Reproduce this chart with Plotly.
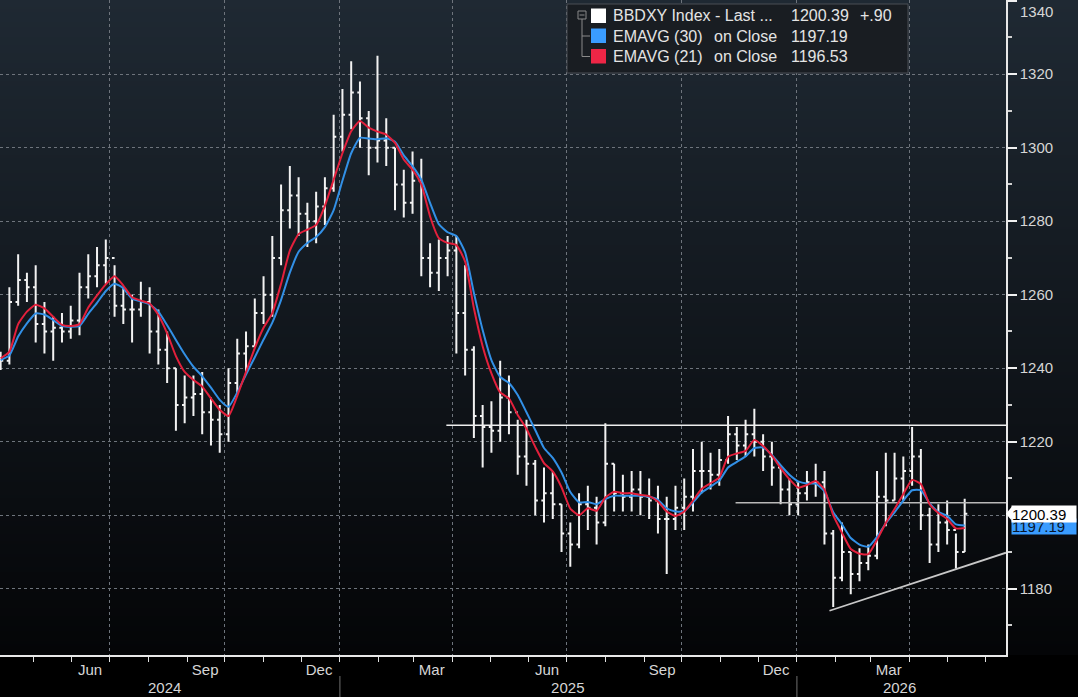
import base64, zlib, struct
import pandas as pd
import plotly.graph_objects as go

# ---------------- data (weekly) ----------------
start_date = "2024-04-05"
n_weeks = 111
opens = [1241,1242,1258,1264,1262,1252,1250,1251,1250,1253,1262,1265,1268,1270,1257,1256,1256,1258,1250,1245,
         1240,1230,1232,1233,1228,1226,1222,1236,1244,1246,1255,1260,1270,1283,1287,1282,1280,1284,1289,1303,
         1309,1315,1308,1300,1302,1300,1290,1285,1291,1270,1266,1270,1272,1255,1245,1227,1224,1223,1232,1228,
         1216,1214,1204,1206,1203,1195,1192,1203,1202,1198,1214,1206,1205,1207,1205,1204,1199,1199,1202,1205,
         1212,1212,1211,1215,1222,1219,1222,1220,1216,1213,1207,1203,1206,1209,1209,1195,1183,1190,1184,1187,
         1189,1205,1204,1210,1212,1216,1200,1192,1198,1196,1190]
highs = [1244.5,1262,1271,1266,1268,1258,1254,1255,1257,1266,1271,1273,1275,1268,1262,1260,1263.5,1262,1256,1250,
         1240,1238,1238,1239,1232,1230,1240,1248,1250,1259,1265,1276,1290,1295,1292,1285,1288,1292,1309,1316,
         1323.5,1318,1310,1325,1308,1300,1294,1299,1297,1274,1275,1276,1276,1268,1246,1230,1231,1242,1238,1226,
         1226,1215,1213,1212,1203,1198,1206,1208,1205,1225,1214,1211,1212,1212,1210,1208,1205,1208,1210,1218,
         1220,1217,1218,1227,1224,1226,1229,1222,1220,1213,1210,1209,1212,1214,1212,1196,1198,1190,1191,1192,
         1212,1217,1217,1216,1224,1218,1202,1203,1204,1195,1204.5]
lows = [1239.5,1241,1257,1258,1247,1244,1242,1247,1248,1249,1259,1262,1263,1254,1252,1247,1254,1244,1241,1236,
        1223,1225,1227,1222,1219,1217,1220,1233,1239,1246,1252,1254,1268,1278,1276,1273,1274,1279,1288,1299,
        1305,1300,1292.5,1296,1295,1283,1281,1282,1265,1262,1261,1265,1244,1238,1221,1213,1217,1220,1222,1211,
        1208,1200,1198,1199,1190,1186,1191,1196,1192,1197,1201,1201,1201,1200,1199,1195,1184,1196,1196,1201,
        1206,1207,1208,1214,1215,1216,1216,1212,1208,1203,1200,1200,1204,1205,1192,1175,1182,1178.5,1182,1185,
        1188,1197,1204,1204,1208,1196,1187,1190,1192,1185.5,1190]
closes = [1242,1258,1264,1262,1252,1250,1251,1250,1253,1262,1265,1268,1270,1257,1256,1256,1258,1250,1245,1240,
          1230,1232,1233,1228,1226,1222,1236,1244,1246,1255,1260,1270,1283,1287,1282,1280,1284,1289,1303,1309,
          1315,1308,1300,1302,1300,1290,1285,1291,1270,1266,1270,1272,1255,1245,1227,1224,1223,1232,1228,1216,
          1214,1204,1206,1203,1195,1192,1203,1202,1198,1214,1206,1205,1207,1205,1204,1199,1199,1202,1205,1212,
          1212,1211,1215,1222,1219,1222,1220,1216,1213,1207,1203,1206,1209,1209,1195,1183,1190,1184,1187,1189,
          1205,1204,1210,1212,1216,1200,1192,1198,1196,1190,1200.39]
ema30 = [1242.2,1243.5,1248.6,1252.2,1254.9,1254.6,1253.1,1251.5,1251.3,1251.5,
         1254.8,1257.8,1261,1263,1261.8,1258.9,1258.2,1257.4,1255.4,1251.7,
         1247.7,1243.8,1240.4,1237.8,1234.7,1231.4,1229.5,1233.4,1238.3,1243,
         1247.8,1252.4,1258.6,1266,1271.7,1274.1,1275.7,1278.4,1283,1291,
         1298.5,1302.7,1302.5,1302.3,1302.6,1301.6,1297.9,1295,1291.3,1285,
         1279.2,1277,1276,1271.5,1260.5,1250.4,1242.2,1237.6,1236,1232.7,
         1228,1223.2,1218.3,1215.6,1211.6,1206.3,1203.5,1203.6,1203,1204.4,
         1205.3,1205.3,1205.3,1205.3,1205,1204.2,1201.9,1201,1201.1,1203.5,
         1206.2,1207.8,1209.4,1213,1214.5,1216,1218.3,1218.4,1216.4,1213.6,
         1211,1209.2,1208.6,1208.6,1206.5,1200.8,1197.5,1193.8,1192,1191.4,
         1194.1,1197.8,1200.8,1204,1206.8,1206.8,1203.2,1200.9,1199.8,1197.5,
         1197.19]
ema21 = [1242.7,1244.5,1252,1255.4,1257.3,1256.3,1254,1251.8,1251.5,1252,
         1256.5,1259.8,1262.8,1265,1262.5,1259.3,1258.4,1257.6,1254.5,1249.5,
         1243.3,1239,1236.8,1235,1231.8,1228.7,1227,1232.5,1239,1245.5,
         1251,1255,1263,1272,1276.5,1277.7,1279,1284.2,1291.3,1298.5,
         1304.5,1307.3,1305.5,1304.4,1303.6,1301.3,1296.8,1294,1290,1281.3,
         1275.4,1274.1,1273.5,1269,1256.3,1246,1238.6,1233.4,1231.8,1227.3,
         1223.5,1218.6,1214.2,1211.9,1207.6,1201.8,1200,1201.9,1201.2,1204.8,
         1206.4,1206,1206,1205.5,1205.2,1203.7,1201,1199.8,1201,1204,
         1207.2,1208.7,1210.3,1215.9,1216.8,1217.5,1220.5,1218.8,1216.2,1212.8,
         1209.8,1207.5,1208.2,1209.3,1207,1200,1195.2,1190.8,1189.5,1189.4,
         1193.3,1197.9,1201.7,1205.8,1209.6,1208.5,1203,1200.6,1199,1196.4,
         1196.53]

# user-drawn levels
level_high_dates = ["2025-03-27", "2026-06-17"]
level_high_vals = [1224.5, 1224.5]
level_mid_dates = ["2025-11-13", "2026-06-17"]
level_mid_vals = [1203.4, 1203.4]
trend_dates = ["2026-01-27", "2026-06-17"]
trend_vals = [1174.0, 1189.8]

# axis ticks / labels
x_range = ["2024-04-04 12:00", "2026-06-17"]
y_range = [1161.96, 1340.2]
y_ticks = [1180, 1200, 1220, 1240, 1260, 1280, 1300, 1320, 1340]
y_tick_text = ["1180", "1200", "1220", "1240", "1260", "1280", "1300", "1320", ""]
y_top_tick = [1340]
y_top_text = ["1340"]
month_ticks = ["2024-05-01","2024-06-01","2024-07-01","2024-08-01","2024-09-01","2024-10-01","2024-11-01",
               "2024-12-01","2025-01-01","2025-02-01","2025-03-01","2025-04-01","2025-05-01","2025-06-01",
               "2025-07-01","2025-08-01","2025-09-01","2025-10-01","2025-11-01","2025-12-01","2026-01-01",
               "2026-02-01","2026-03-01","2026-04-01","2026-05-01","2026-06-01"]
month_labels = ["","Jun","","","Sep","","","Dec","","","Mar","","","Jun",
                "","","Sep","","","Dec","","","Mar","","",""]
quarter_starts = ["2024-07-01","2024-10-01","2025-01-01","2025-04-01","2025-07-01","2025-10-01",
                  "2026-01-01","2026-04-01"]
year_label_pos = ["2024-08-14", "2025-07-02", "2026-03-24"]
year_labels = ["2024", "2025", "2026"]
year_breaks = ["2025-01-01", "2026-01-01"]

legend_names = ["BBDXY Index - Last ...", "EMAVG (30)", "EMAVG (21)"]
legend_mid = ["", "on Close", "on Close"]
legend_vals = ["1200.39", "1197.19", "1196.53"]
legend_change = "+.90"

dates = pd.date_range(start_date, periods=n_weeks, freq="7D")

# ---------------- styling ----------------
W, H = 1078, 697
PW, PH = 1006, 655
FONT = "Liberation Sans, Arial, sans-serif"
GRID = "#6e747c"
WHITE = "#f2f2f2"
BLUE = "#3290e6"
RED = "#e3203c"

def xp(px):
    return px / PW

def yp(py):
    return 1 - py / PH

def png_gradient(top, bottom, h=256):
    raw = b"".join(b"\x00" + bytes([int(round(top[k] + (bottom[k] - top[k]) * i / (h - 1))) for k in range(3)])
                   for i in range(h))
    def chunk(t, d):
        return struct.pack(">I", len(d)) + t + d + struct.pack(">I", zlib.crc32(t + d) & 0xffffffff)
    ihdr = struct.pack(">IIBBBBB", 1, h, 8, 2, 0, 0, 0)
    png = b"\x89PNG\r\n\x1a\n" + chunk(b"IHDR", ihdr) + chunk(b"IDAT", zlib.compress(raw)) + chunk(b"IEND", b"")
    return "data:image/png;base64," + base64.b64encode(png).decode()

fig = go.Figure()

fig.add_trace(go.Ohlc(x=dates, open=opens, high=highs, low=lows, close=closes,
                      increasing=dict(line=dict(color=WHITE, width=2)),
                      decreasing=dict(line=dict(color=WHITE, width=2)),
                      tickwidth=0.3, showlegend=False, hoverinfo="skip"))

for dts, vals, col, w in [(level_high_dates, level_high_vals, "#eeeeee", 1.6),
                          (level_mid_dates, level_mid_vals, "#b9b9b9", 1.6),
                          (trend_dates, trend_vals, "#c8c8c8", 1.8)]:
    fig.add_trace(go.Scatter(x=dts, y=vals, mode="lines", line=dict(color=col, width=w),
                             showlegend=False, hoverinfo="skip", cliponaxis=True))

fig.add_trace(go.Scatter(x=dates, y=ema30, mode="lines", line=dict(color=BLUE, width=2, shape="spline", smoothing=0.5),
                         showlegend=False, hoverinfo="skip"))
fig.add_trace(go.Scatter(x=dates, y=ema21, mode="lines", line=dict(color=RED, width=2, shape="spline", smoothing=0.5),
                         showlegend=False, hoverinfo="skip"))

# invisible traces to host the year-label axis and the top y label axis
fig.add_trace(go.Scatter(x=[dates[0]], y=[None], xaxis="x2", showlegend=False, hoverinfo="skip"))
fig.add_trace(go.Scatter(x=[dates[0]], y=[None], yaxis="y2", showlegend=False, hoverinfo="skip"))

shapes = []
# legend box
shapes.append(dict(type="rect", xref="paper", yref="paper", x0=xp(567), x1=xp(908), y0=yp(73), y1=yp(4),
                   fillcolor="#191d22", line=dict(color="#4a4f55", width=1), layer="above"))
# tree icon
shapes.append(dict(type="rect", xref="paper", yref="paper", x0=xp(578), x1=xp(586), y0=yp(19), y1=yp(11),
                   line=dict(color="#8a8a8a", width=1), fillcolor="rgba(0,0,0,0)", layer="above"))
shapes.append(dict(type="line", xref="paper", yref="paper", x0=xp(579.5), x1=xp(584.5), y0=yp(15), y1=yp(15),
                   line=dict(color="#8a8a8a", width=1), layer="above"))
shapes.append(dict(type="line", xref="paper", yref="paper", x0=xp(582), x1=xp(582), y0=yp(19), y1=yp(56.5),
                   line=dict(color="#8a8a8a", width=1), layer="above"))
for yy in (36, 56.5):
    shapes.append(dict(type="line", xref="paper", yref="paper", x0=xp(582), x1=xp(590), y0=yp(yy), y1=yp(yy),
                       line=dict(color="#8a8a8a", width=1), layer="above"))
# legend swatches
for (y0, y1), col in zip([(8.5, 23), (28.5, 43), (49, 63.5)], ["#ffffff", "#3a9cff", "#ee2646"]):
    shapes.append(dict(type="rect", xref="paper", yref="paper", x0=xp(591), x1=xp(606), y0=yp(y1), y1=yp(y0),
                       fillcolor=col, line=dict(width=0), layer="above"))
# year separators in the axis area
for d in year_breaks:
    shapes.append(dict(type="line", xref="x", yref="paper", x0=d, x1=d, y0=yp(676), y1=yp(697),
                       line=dict(color="#707070", width=1)))
# pointer of last-price label
shapes.append(dict(type="path", xref="paper", yref="paper",
                   path=f"M {xp(1006)},{yp(513.8)} L {xp(1012)},{yp(506.5)} L {xp(1012)},{yp(521)} Z",
                   fillcolor="#ffffff", line=dict(width=0), layer="above"))

annotations = []
row_y = [15.7, 36.2, 56.6]
for i in range(3):
    annotations.append(dict(xref="paper", yref="paper", x=xp(611), y=yp(row_y[i]), text=legend_names[i],
                            showarrow=False, xanchor="left", yanchor="middle",
                            font=dict(family=FONT, size=16, color="#e4e4e4")))
    if legend_mid[i]:
        annotations.append(dict(xref="paper", yref="paper", x=xp(712), y=yp(row_y[i]), text=legend_mid[i],
                                showarrow=False, xanchor="left", yanchor="middle",
                                font=dict(family=FONT, size=16, color="#e4e4e4")))
    annotations.append(dict(xref="paper", yref="paper", x=xp(789), y=yp(row_y[i]), text=legend_vals[i],
                            showarrow=False, xanchor="left", yanchor="middle",
                            font=dict(family=FONT, size=16, color="#e4e4e4")))
annotations.append(dict(xref="paper", yref="paper", x=xp(858), y=yp(row_y[0]), text=legend_change,
                        showarrow=False, xanchor="left", yanchor="middle",
                        font=dict(family=FONT, size=16, color="#e4e4e4")))
# last value labels on the right axis (blue sits partly behind the white one, as in the reference)
annotations.append(dict(xref="paper", yref="y", x=xp(1011), y=ema30[-1], text=legend_vals[1],
                        showarrow=False, xanchor="left", yanchor="middle", yshift=-1, bgcolor="#3a9cff",
                        borderpad=0, width=64, height=15, align="left",
                        font=dict(family=FONT, size=15, color="#08162b")))
annotations.append(dict(xref="paper", yref="y", x=xp(1011), y=closes[-1], text=legend_vals[0],
                        showarrow=False, xanchor="left", yanchor="middle", bgcolor="#ffffff",
                        borderpad=0, width=64, height=16, align="left",
                        font=dict(family=FONT, size=15, color="#000000")))

tickfont = dict(family=FONT, size=15, color="#d6d6d6")

fig.update_layout(
    width=W, height=H,
    margin=dict(l=0, r=W - PW, t=0, b=H - PH),
    paper_bgcolor="#000000",
    plot_bgcolor="#000000",
    showlegend=False,
    images=[dict(source=png_gradient((31, 41, 51), (4, 5, 7)), xref="paper", yref="paper",
                 x=0, y=1, sizex=W / PW, sizey=1, sizing="stretch", xanchor="left", yanchor="top",
                 layer="below")],
    xaxis=dict(type="date", range=x_range, tickmode="array", tickvals=month_ticks, ticktext=month_labels,
               ticks="outside", ticklen=5, tickwidth=1, tickcolor="#e0e0e0", ticklabelshift=18,
               ticklabelstandoff=-5, tickfont=tickfont,
               showgrid=False, zeroline=False, showline=True, linecolor="#e8e8e8", linewidth=1.5,
               rangeslider=dict(visible=False),
               minor=dict(tickmode="array", tickvals=quarter_starts, showgrid=True, gridcolor=GRID,
                          griddash="3px,3px", gridwidth=1, ticks="")),
    xaxis2=dict(type="date", range=x_range, overlaying="x", side="bottom", anchor="y",
                tickmode="array", tickvals=year_label_pos, ticktext=year_labels, ticks="",
                ticklabelstandoff=22, tickfont=tickfont,
                showgrid=False, zeroline=False, showline=False, rangeslider=dict(visible=False)),
    yaxis=dict(side="right", range=y_range, tickmode="array", tickvals=y_ticks, ticktext=y_tick_text,
               ticks="outside", ticklen=9, tickwidth=2, tickcolor="#f0f0f0",
               tickfont=tickfont,
               showgrid=True, gridcolor=GRID, griddash="3px,3px", gridwidth=1,
               zeroline=False, showline=True, linecolor="#e8e8e8", linewidth=1.5,
               minor=dict(tickmode="linear", tick0=1160, dtick=10, ticks="outside", ticklen=4,
                          tickcolor="#d0d0d0", showgrid=False)),
    yaxis2=dict(side="right", overlaying="y", anchor="x", range=y_range, tickmode="array",
                tickvals=y_top_tick, ticktext=y_top_text, ticks="outside", ticklen=9,
                tickcolor="rgba(0,0,0,0)", ticklabelstandoff=10,
                ticklabelposition="outside bottom", ticklabeloverflow="allow",
                tickfont=tickfont, showgrid=False, zeroline=False, showline=False),
    shapes=shapes,
    annotations=annotations,
)

fig.write_html("out.html")
